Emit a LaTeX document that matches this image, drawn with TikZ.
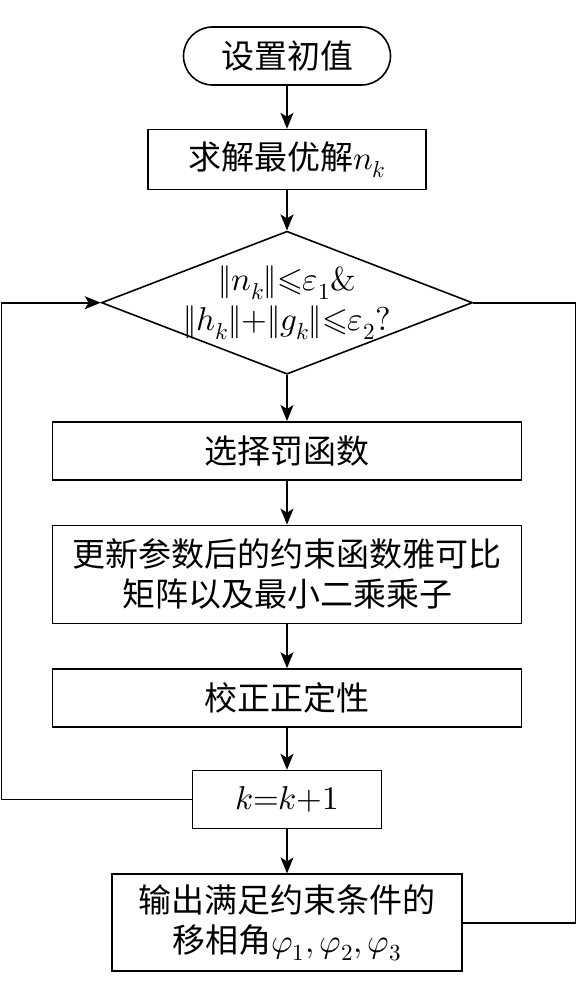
\documentclass[tikz,border=0pt]{standalone}
\usepackage{fontspec}
\usepackage{unicode-math}
\newfontfamily\cjk{Noto Sans CJK SC}
\usetikzlibrary{positioning,shapes.geometric,arrows.meta}

\begin{document}
\begin{tikzpicture}[
   x=1pt,y=1pt,
   font=\cjk\fontsize{33}{40}\selectfont,
   box/.style={draw,line width=1.6pt,inner sep=0pt,align=center},
   proc/.style={box,minimum width=469pt,minimum height=58pt},
   term/.style={box,rounded corners=29pt,minimum width=207pt,minimum height=58pt},
   cond/.style={box,diamond,aspect=2.6,inner xsep=-16pt,inner ysep=-10pt,minimum width=371pt,minimum height=143pt},
   link/.style={-{Stealth[length=16pt,width=13pt,inset=4pt]},line width=1.6pt},
   wire/.style={line width=1.6pt}]
\useasboundingbox (0,0) rectangle (577,-987);
\node[term] (init) at (287,-56) {设置初值};
\node[box,minimum width=278pt,minimum height=60pt,below=43pt of init] (solve) {求解最优解$n_k$};
\node[cond,below=40pt of solve] (check) {$\|n_k\|{\leqslant}\varepsilon_1\&$\\$\|h_k\|{+}\|g_k\|{\leqslant}\varepsilon_2?$};
\node[proc,below=46pt of check] (penalty) {选择罚函数};
\node[proc,minimum height=98pt,below=44pt of penalty] (update) {更新参数后的约束函数雅可比\\矩阵以及最小二乘乘子};
\node[proc,below=44pt of update] (correct) {校正正定性};
\node[box,minimum width=189pt,minimum height=58pt,below=42pt of correct] (incr) {$k{=}k{+}1$};
\node[box,minimum width=350pt,minimum height=97pt,below=44pt of incr] (output) {输出满足约束条件的\\移相角$\varphi_1,\varphi_2,\varphi_3$};
% loop corners
\coordinate (lft) at (1.5,0 |- check.west);
\coordinate (rgt) at (575.5,0 |- check.east);
\draw[link] (init) -- (solve);
\draw[link] (solve) -- (check);
\draw[link] (check) -- (penalty);
\draw[link] (penalty) -- (update);
\draw[link] (update) -- (correct);
\draw[link] (correct) -- (incr);
\draw[link] (incr) -- (output);
\draw[link] (incr.west) -| (lft) -- (check.west);
\draw[wire] (check.east) -- (rgt) |- (output.east);
\end{tikzpicture}
\end{document}
